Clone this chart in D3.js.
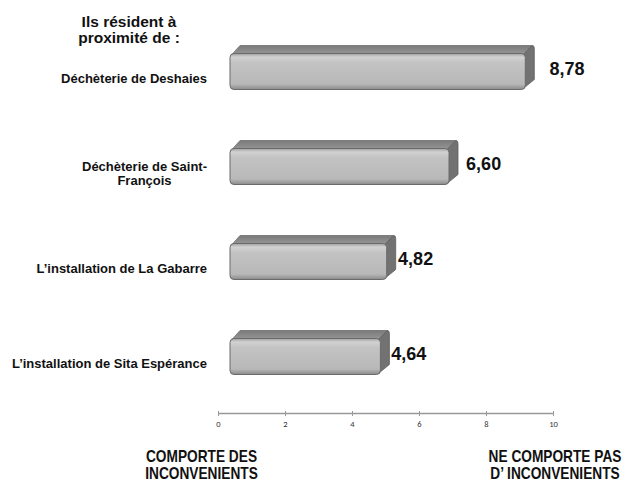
<!DOCTYPE html>
<html><head><meta charset="utf-8">
<script src="https://cdn.jsdelivr.net/npm/d3@7"></script>
<style>body{margin:0;background:#fff}svg{display:block}</style>
</head><body>
<script>
const categories = [["Déchèterie de Deshaies"], ["Déchèterie de Saint-", "François"], ["L’installation de La Gabarre"], ["L’installation de Sita Espérance"]];
const values = [8.78, 6.60, 4.82, 4.64];
const valueLabels = ["8,78", "6,60", "4,82", "4,64"];
const ticks = [0, 2, 4, 6, 8, 10];
const titleLines = ["Ils résident à", "proximité de :"];
const leftLabel = ["COMPORTE DES", "INCONVENIENTS"];
const rightLabel = ["NE COMPORTE PAS", "D’ INCONVENIENTS"];

const W = 628, H = 483;
const FONT = "Liberation Sans, Arial, sans-serif";
const svg = d3.select("body").append("svg").attr("width", W).attr("height", H);
const defs = svg.append("defs");
const g1 = defs.append("linearGradient").attr("id", "front").attr("x1", 0).attr("y1", 0).attr("x2", 0).attr("y2", 1);
[[0, "#a0a0a0"], [0.1, "#d2d2d2"], [0.25, "#c3c3c3"], [0.85, "#b8b8b8"], [1, "#8a8a8a"]].forEach(s => g1.append("stop").attr("offset", s[0]).attr("stop-color", s[1]));
const g2 = defs.append("linearGradient").attr("id", "top").attr("x1", 0).attr("y1", 0).attr("x2", 0).attr("y2", 1);
[[0, "#7a7a7a"], [1, "#979797"]].forEach(s => g2.append("stop").attr("offset", s[0]).attr("stop-color", s[1]));

const x = d3.scaleLinear().domain([0, 10]).range([218, 553]);      // axis
const xBar = d3.scaleLinear().domain([0, 10]).range([218, 568]);   // 3D bar ends (perspective)
const barStart = 230;
const xLab = d3.scaleLinear().domain([0, 10]).range([214, 596]);   // value labels
const y = d3.scalePoint().domain(d3.range(values.length)).range([71.5, 356.5]);

const dx = 9, dy = 8, h = 36;
values.forEach((v, i) => {
  const x0 = barStart, x1 = xBar(v);
  const yc = y(i);
  const yt = yc - h / 2, yb = yc + h / 2;
  const g = svg.append("g");
  g.append("path").attr("d", `M${x0 + 2},${yt + 1} L${x0 + dx + 1},${yt - dy} L${x1 + dx - 2},${yt - dy} L${x1},${yt + 1} Z`)
    .attr("fill", "url(#top)").attr("stroke", "#6e6e6e").attr("stroke-width", 0.8).attr("stroke-linejoin", "round");
  g.append("path").attr("d", `M${x1 - 2},${yt + 1} L${x1 + dx - 2},${yt - dy} Q${x1 + dx},${yt - dy} ${x1 + dx},${yt - dy + 3} L${x1 + dx},${yb - dy - 2} L${x1 - 2},${yb - 1} Z`)
    .attr("fill", "#727272").attr("stroke", "#5e5e5e").attr("stroke-width", 0.8).attr("stroke-linejoin", "round");
  g.append("rect").attr("x", x0).attr("y", yt).attr("width", x1 - x0).attr("height", h)
    .attr("rx", 4).attr("ry", 4).attr("fill", "url(#front)").attr("stroke", "#6a6a6a").attr("stroke-width", 1);
  svg.append("text").attr("x", xLab(v)).attr("y", yc + 3)
    .attr("font-family", FONT).attr("font-weight", "bold").attr("font-size", 18)
    .attr("fill", "#111").text(valueLabels[i]);
  const lines = categories[i];
  const lc = yc + 7;
  if (lines.length === 1) {
    svg.append("text").attr("font-family", FONT).attr("font-weight", "bold").attr("font-size", 13).attr("fill", "#111")
      .attr("x", 207).attr("y", lc + 4.5).attr("text-anchor", "end").text(lines[0]);
  } else {
    const t0 = svg.append("text").attr("font-family", FONT).attr("font-weight", "bold").attr("font-size", 13).attr("fill", "#111")
      .attr("x", 207).attr("y", lc - 3).attr("text-anchor", "end").text(lines[0]);
    const wdt = t0.node().getComputedTextLength();
    t0.attr("x", 207 - wdt / 2).attr("text-anchor", "middle");
    svg.append("text").attr("font-family", FONT).attr("font-weight", "bold").attr("font-size", 13).attr("fill", "#111")
      .attr("x", 207 - wdt / 2).attr("y", lc + 11).attr("text-anchor", "middle").text(lines[1]);
  }
});

// axis
const axis = d3.axisBottom(x).tickValues(ticks).tickSize(3).tickSizeOuter(0).tickFormat(d3.format("d"));
const ag = svg.append("g").attr("transform", "translate(0,413)").call(axis);
ag.select(".domain").attr("stroke", "#999").attr("stroke-width", 1.3);
ag.selectAll(".tick line").attr("stroke", "#999").attr("y1", -2);
ag.selectAll(".tick text").attr("font-family", "Carlito, Liberation Sans, sans-serif").attr("font-size", 8.5).attr("fill", "#333").attr("dy", "0.95em");

// title
titleLines.forEach((l, k) => svg.append("text").attr("font-family", FONT).attr("font-weight", "bold").attr("font-size", 15.5)
  .attr("fill", "#111").attr("text-anchor", "middle").attr("x", 129).attr("y", 27 + k * 16).text(l));

// bottom labels (slightly tall glyphs)
function two(xc, lines) {
  lines.forEach((l, k) => svg.append("text").attr("font-family", FONT).attr("font-weight", "bold").attr("font-size", 13.7)
    .attr("fill", "#111").attr("text-anchor", "middle")
    .attr("transform", `translate(${xc},${462 + k * 17}) scale(1,1.15)`).text(l));
}
two(201.5, leftLabel);
two(555, rightLabel);
</script>
</body></html>
